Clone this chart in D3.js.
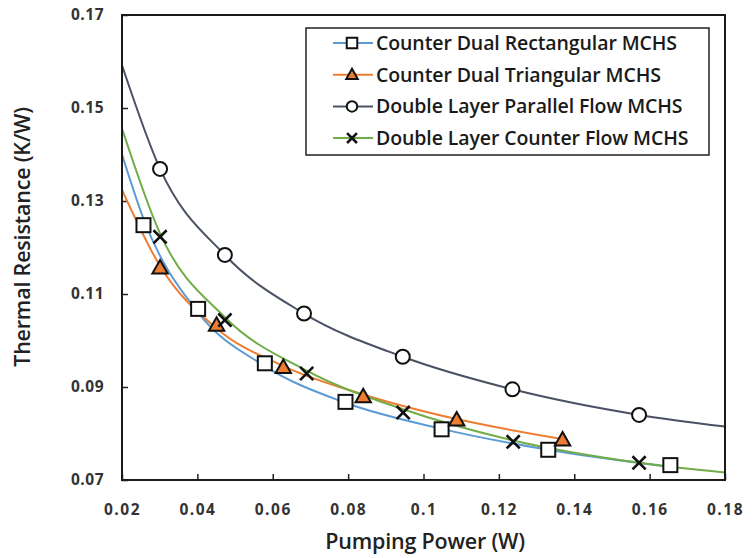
<!DOCTYPE html>
<html><head><meta charset="utf-8">
<script src="https://cdn.jsdelivr.net/npm/d3@7"></script>
<style>body{margin:0;background:#fff}svg{display:block}text{font-family:"Open Sans",Lato,sans-serif}</style>
</head><body>
<svg id="c" width="755" height="558"></svg>
<script>
// ---- data ----
const xTicks = [0.02,0.04,0.06,0.08,0.1,0.12,0.14,0.16,0.18];
const yTicks = [0.07,0.09,0.11,0.13,0.15,0.17];
const seriesNames = ["Counter Dual Rectangular MCHS","Counter Dual Triangular MCHS","Double Layer Parallel Flow MCHS","Double Layer Counter Flow MCHS"];
// marker points
const rectMarkers = [[0.0257,0.1248],[0.0402,0.1068],[0.0579,0.0951],[0.0793,0.0868],[0.1048,0.0809],[0.1331,0.0765],[0.1655,0.0732]];
const triMarkers  = [[0.0301,0.1156],[0.0451,0.1033],[0.0628,0.0942],[0.0840,0.0879],[0.1088,0.0829],[0.1369,0.0786]];
const parMarkers  = [[0.0301,0.1369],[0.0473,0.1184],[0.0683,0.1058],[0.0945,0.0965],[0.1236,0.0895],[0.1572,0.0840]];
const cntMarkers  = [[0.0301,0.1223],[0.0473,0.1044],[0.0690,0.0929],[0.0946,0.0845],[0.1238,0.0782],[0.1572,0.0737]];
// curve points
const rectLine = [[0.02,0.1400],[0.0257,0.1262],[0.0402,0.1060],[0.0579,0.0945],[0.0793,0.0866],[0.1048,0.0810],[0.1331,0.0765],[0.1655,0.0728]];
const triLine  = [[0.02,0.1324],[0.0301,0.1160],[0.0451,0.1026],[0.0628,0.0945],[0.0840,0.0884],[0.1088,0.0831],[0.1369,0.0788]];
const parLine  = [[0.02,0.1592],[0.0301,0.1369],[0.0473,0.1184],[0.0683,0.1058],[0.0945,0.0965],[0.1236,0.0895],[0.1572,0.0840],[0.18,0.0815]];
const cntLine  = [[0.02,0.1456],[0.0301,0.1230],[0.0473,0.1050],[0.0690,0.0935],[0.0946,0.0852],[0.1238,0.0785],[0.1572,0.0737],[0.18,0.0716]];
const colors = ["#5B9BD5","#ED7D31","#4A5263","#70AD47"];

const svg = d3.select("#c");
const L=122,R=725,T=15,B=480;
const x = d3.scaleLinear().domain([0.02,0.18]).range([L,R]);
const y = d3.scaleLinear().domain([0.07,0.17]).range([B,T]);

// axes with inner ticks
const xAxis = d3.axisBottom(x).tickValues(xTicks).tickSize(-6).tickPadding(27).tickFormat(d=>d3.format("")(+d.toFixed(2)));
const yAxis = d3.axisLeft(y).tickValues(yTicks).tickSize(-6).tickPadding(18).tickFormat(d3.format(".2f"));
const gx = svg.append("g").attr("transform",`translate(0,${B})`).call(xAxis);
const gy = svg.append("g").attr("transform",`translate(${L},0)`).call(yAxis);
[gx,gy].forEach(g=>{
  g.select(".domain").remove();
  g.selectAll(".tick line").attr("stroke","#222").attr("stroke-width",1.5);
  g.selectAll(".tick text").attr("fill","#333").attr("font-size",15.5).attr("font-weight","bold").attr("font-family","Lato,sans-serif");
});
gx.selectAll(".tick text").attr("letter-spacing","1.5px").attr("dy","0.5em");
gy.selectAll(".tick text").attr("letter-spacing","0.5px");

// series lines
const line = d3.line().x(d=>x(d[0])).y(d=>y(d[1])).curve(d3.curveMonotoneX);
const lines=[rectLine,triLine,parLine,cntLine];
lines.forEach((ln,i)=>{
  svg.append("path").datum(ln).attr("d",line).attr("fill","none").attr("stroke",colors[i]).attr("stroke-width",2);
});

// markers
function drawMarker(g,type,cx,cy,s){
  if(type===0){g.append("rect").attr("x",cx-s/2).attr("y",cy-s/2).attr("width",s).attr("height",s).attr("fill","#fff").attr("stroke","#111").attr("stroke-width",2);}
  else if(type===1){const h=s*0.95;g.append("path").attr("d",`M${cx},${cy-h*0.6}L${cx+s*0.55},${cy+h*0.42}L${cx-s*0.55},${cy+h*0.42}Z`).attr("fill","#ED7D31").attr("stroke","#111").attr("stroke-width",2);}
  else if(type===2){g.append("circle").attr("cx",cx).attr("cy",cy).attr("r",s/2).attr("fill","#fff").attr("stroke","#111").attr("stroke-width",2);}
  else {const r=s*0.47;g.append("path").attr("d",`M${cx-r},${cy-r}L${cx+r},${cy+r}M${cx-r},${cy+r}L${cx+r},${cy-r}`).attr("stroke","#111").attr("stroke-width",2.6).attr("fill","none");}
}
const markerSets=[rectMarkers,triMarkers,parMarkers,cntMarkers];
const gm = svg.append("g");
markerSets.forEach((ms,i)=>ms.forEach(d=>drawMarker(gm,i,x(d[0]),y(d[1]),14)));

// frame
svg.append("rect").attr("x",L).attr("y",T).attr("width",R-L).attr("height",B-T).attr("fill","none").attr("stroke","#1a1a1a").attr("stroke-width",2);

// legend
const lg = svg.append("g");
lg.append("rect").attr("x",306).attr("y",28).attr("width",403).attr("height",127).attr("fill","#fff").attr("stroke","#222").attr("stroke-width",1.5);
seriesNames.forEach((n,i)=>{
  const cy = 43 + i*31.7;
  lg.append("line").attr("x1",333).attr("x2",373).attr("y1",cy).attr("y2",cy).attr("stroke",colors[i]).attr("stroke-width",2);
  drawMarker(lg,i,352,cy,10.5);
  lg.append("text").attr("x",376).attr("y",cy).attr("dy","0.36em").attr("font-size",19.5).attr("font-weight",600).attr("letter-spacing","-0.1px").attr("fill","#1a1a1a").text(n);
});

// axis titles
svg.append("text").attr("x",425).attr("y",549).attr("text-anchor","middle").attr("font-size",21.5).attr("font-weight",600).attr("letter-spacing","-0.2px").attr("fill","#222").text("Pumping Power (W)");
svg.append("text").attr("transform",`translate(30,237) rotate(-90)`).attr("text-anchor","middle").attr("font-size",21.5).attr("font-weight",600).attr("letter-spacing","-0.2px").attr("fill","#222").text("Thermal Resistance (K/W)");
</script>
</body></html>
